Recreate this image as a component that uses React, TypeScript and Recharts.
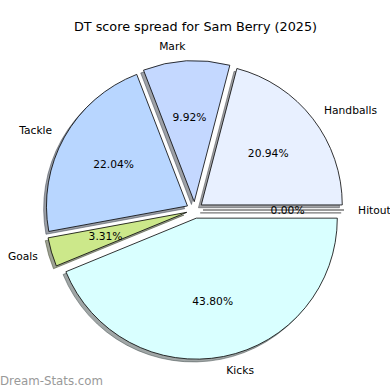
import React from 'react';
import { PieChart, Pie, Cell } from 'recharts';

// score categories, in the order they go round the pie (counter-clockwise from 3 o'clock)
const categories = ['Hitout', 'Handballs', 'Mark', 'Tackle', 'Goals', 'Kicks'];
const scores = [0, 20.94, 9.92, 22.04, 3.31, 43.8];
const sliceColors = ['#d0e4ff', '#e8f0ff', '#c4d8ff', '#b8d6ff', '#cce88a', '#d9ffff'];

const title = 'DT score spread for Sam Berry (2025)';
const watermark = 'Dream-Stats.com';

const data = categories.map((name, i) => ({ name, value: scores[i] }));

const WIDTH = 390;
const HEIGHT = 390;
const CX = 194.7;
const CY = 210;
const RADIUS = 141;
const EXPLODE = 8.3;
const SHADOW = 2.8;
const RADIAN = Math.PI / 180;
const FONT = '"DejaVu Sans", sans-serif';

const total = scores.reduce((a, b) => a + b, 0);
const midAngles = scores.map((v, i) => {
  const before = scores.slice(0, i).reduce((a, b) => a + b, 0);
  return ((before + v / 2) / total) * 360;
});

// matplotlib style shadow: 0.3 x face colour
const shade = (hex: string) => {
  const n = parseInt(hex.slice(1), 16);
  const r = Math.round(((n >> 16) & 255) * 0.3);
  const g = Math.round(((n >> 8) & 255) * 0.3);
  const b = Math.round((n & 255) * 0.3);
  return `rgb(${r},${g},${b})`;
};

const makeLabel = (slice: number) => (props: any) => {
  const { cx, cy, midAngle, outerRadius, percent, index, name, value } = props;
  if (index !== slice) return <g />;
  const cos = Math.cos(-midAngle * RADIAN);
  const sin = Math.sin(-midAngle * RADIAN);
  const lx = cx + outerRadius * 1.1 * cos;
  const ly = cy + outerRadius * 1.1 * sin;
  const px = cx + outerRadius * 0.6 * cos;
  const py = cy + outerRadius * 0.6 * sin;
  const anchor = lx - CX > 0 ? 'start' : 'end';
  return (
    <g>
      {value === 0 && (
        <g>
          <line x1={cx - SHADOW} y1={cy + SHADOW} x2={cx - SHADOW + outerRadius * cos} y2={cy + SHADOW + outerRadius * sin} stroke="#777" strokeWidth={1.2} />
          <line x1={cx} y1={cy} x2={cx + outerRadius * cos} y2={cy + outerRadius * sin} stroke="#000" strokeWidth={0.8} />
        </g>
      )}
      <text x={lx} y={ly} textAnchor={anchor} dominantBaseline="central" fontFamily={FONT} fontSize={10.7} fill="#000">
        {name}
      </text>
      <text x={px} y={py} textAnchor="middle" dominantBaseline="central" fontFamily={FONT} fontSize={10.7} fill="#000">
        {`${(percent * 100).toFixed(2)}%`}
      </text>
    </g>
  );
};

const App: React.FC = () => {
  const offsets = midAngles.map((a) => ({
    dx: EXPLODE * Math.cos(a * RADIAN),
    dy: -EXPLODE * Math.sin(a * RADIAN),
  }));

  return (
    <div style={{ position: 'relative', width: WIDTH, height: HEIGHT, background: '#fff' }}>
      <style>{'body{margin:0}'}</style>
      <PieChart width={WIDTH} height={HEIGHT} margin={{ top: 0, right: 0, bottom: 0, left: 0 }}>
        {/* shadows first so every wedge sits on top of them */}
        {data.map((_, i) => (
          <Pie
            key={`shadow-${i}`}
            data={data}
            dataKey="value"
            nameKey="name"
            cx={CX + offsets[i].dx - SHADOW}
            cy={CY + offsets[i].dy + SHADOW}
            outerRadius={RADIUS}
            startAngle={0}
            endAngle={360}
            label={false}
            labelLine={false}
            isAnimationActive={false}
          >
            {data.map((d, j) => (
              <Cell
                key={d.name}
                fill={j === i ? shade(sliceColors[j]) : 'none'}
                fillOpacity={0.5}
                stroke={j === i ? shade(sliceColors[j]) : 'none'}
                strokeOpacity={0.5}
                strokeWidth={1}
              />
            ))}
          </Pie>
        ))}
        {data.map((_, i) => (
          <Pie
            key={`slice-${i}`}
            data={data}
            dataKey="value"
            nameKey="name"
            cx={CX + offsets[i].dx}
            cy={CY + offsets[i].dy}
            outerRadius={RADIUS}
            startAngle={0}
            endAngle={360}
            label={makeLabel(i)}
            labelLine={false}
            isAnimationActive={false}
          >
            {data.map((d, j) => (
              <Cell
                key={d.name}
                fill={j === i ? sliceColors[j] : 'none'}
                stroke={j === i ? '#000' : 'none'}
                strokeWidth={0.8}
              />
            ))}
          </Pie>
        ))}
      </PieChart>
      <svg width={WIDTH} height={HEIGHT} style={{ position: 'absolute', left: 0, top: 0, pointerEvents: 'none' }}>
        <text x={195.5} y={30.5} textAnchor="middle" fontFamily={FONT} fontSize={12.8} fill="#000">
          {title}
        </text>
        <text x={0} y={385} fontFamily={FONT} fontSize={11.8} fill="#999">
          {watermark}
        </text>
      </svg>
    </div>
  );
};

export default App;
